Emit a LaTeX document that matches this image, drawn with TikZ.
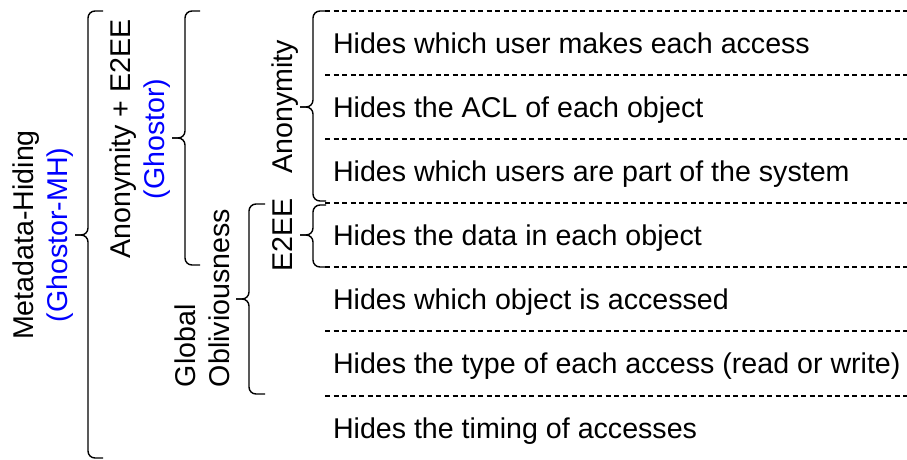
\documentclass[tikz,border=0pt]{standalone}
\usepackage{fontspec}
\setmainfont{Liberation Sans}
\definecolor{labblue}{RGB}{0,0,255}
\newcommand{\mybrace}[5]{% #1 xv, #2 ytop, #3 ytip, #4 ybot, #5 xend
  \draw[bracestyle] (#5,#2) -- (#1,#2) -- (#1,#3) -- (#1-13,#3);
  \draw[bracestyle] (#1-13,#3) -- (#1,#3) -- (#1,#4) -- (#5,#4);}
\begin{document}
\begin{tikzpicture}[x=1pt,y=-1pt,
  txt/.style={font=\fontsize{28.6}{34}\selectfont, inner sep=0pt, outer sep=0pt},
  rowtxt/.style={txt, anchor=base west},
  vlab/.style={txt, rotate=90},
  bracestyle/.style={line width=1.4pt, rounded corners=7pt},
  sep/.style={line width=1.2pt, dash pattern=on 5pt off 3.5pt}]
\useasboundingbox (0,0) rectangle (907,459);
% separators
\foreach \yy in {11,75,139,203,267,331,396}
  \draw[sep] (325,\yy) -- (907,\yy);
% rows
\node[rowtxt] (r1) at (333,53.5) {Hides which user makes each access};
\node[rowtxt] (r2) at (333,117.5) {Hides the ACL of each object};
\node[rowtxt] (r3) at (333,181.5) {Hides which users are part of the system};
\node[rowtxt] (r4) at (333,245.5) {Hides the data in each object};
\node[rowtxt] (r5) at (333,309.5) {Hides which object is accessed};
\node[rowtxt] (r6) at (333,373.5) {Hides the type of each access (read or write)};
\node[rowtxt] (r7) at (333,438) {Hides the timing of accesses};
% braces
\mybrace{88}{11}{235}{458}{103}
\mybrace{185}{11}{138}{265}{200}
\mybrace{313}{11}{107}{201}{326}
\mybrace{313}{205}{235}{267}{326}
\mybrace{249}{204}{299}{394}{265}
% labels
\node[vlab, align=center] (meta) at (43,235) {Metadata-Hiding\\\textcolor{labblue}{(Ghostor-MH)}};
\node[vlab, align=center] (ae) at (140,139) {Anonymity + E2EE\\\textcolor{labblue}{(Ghostor)}};
\node[vlab, anchor=base] (anon) at (292.5,107) {Anonymity};
\node[vlab, anchor=base] (e2ee) at (292,235) {E2EE};
\node[vlab, align=left] (glob) at (202,298) {Global\\Obliviousness};
\end{tikzpicture}
\end{document}
